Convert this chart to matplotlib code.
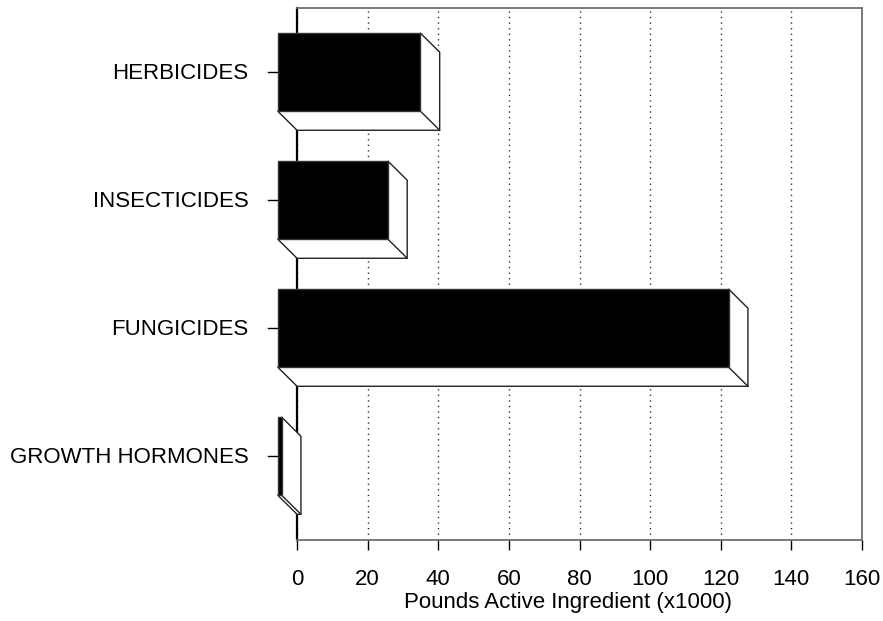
import matplotlib
matplotlib.use("Agg")
from matplotlib import pyplot as plt
from matplotlib.patches import Polygon

categories = ["HERBICIDES", "INSECTICIDES", "FUNGICIDES", "GROWTH HORMONES"]
pounds = [40.4, 31.2, 127.7, 1.1]
xticks = [0, 20, 40, 60, 80, 100, 120, 140, 160]

# depth of the pseudo-3d bars, in data units (x: pounds, y: category rows)
DX = 5.5
DY = 0.15
BAR_H = 0.61

plt.rcParams['font.family'] = ['Liberation Sans', 'DejaVu Sans']

fig = plt.figure(figsize=(8.83, 6.21), dpi=100)
ax = fig.add_axes([0.3364, 0.1304, 0.6398, 0.8567])
ax.set_xlim(0, 160)
ax.set_ylim(3.656, -0.5)


def bar3d(ax, y, value):
    # front face sits up-left of the back plane
    x0, x1 = -DX, value - DX
    top, bot = y - BAR_H / 2, y + BAR_H / 2
    side = Polygon([(x0, bot), (x0 + DX, bot + DY), (x1 + DX, bot + DY),
                    (x1 + DX, top + DY), (x1, top), (x1, bot)],
                   closed=True, facecolor='white', edgecolor='#222222',
                   linewidth=1.0, zorder=3, clip_on=False)
    ax.add_patch(side)
    ax.plot([x1, x1 + DX], [bot, bot + DY], color='#222222', lw=1.0,
            zorder=3.1, clip_on=False)
    front = Polygon([(x0, top), (x1, top), (x1, bot), (x0, bot)],
                    closed=True, facecolor='black', edgecolor='#333333',
                    linewidth=1.0, zorder=3.2, clip_on=False)
    ax.add_patch(front)


for i, v in enumerate(pounds):
    bar3d(ax, i, v)
    ax.plot([-DX - 2.8, -DX], [i, i], color='black', lw=1.0, clip_on=False)
    ax.text(-13.8, i + 0.01, categories[i], ha='right', va='center',
            fontsize=16)

ax.set_yticks([])
ax.set_xticks(xticks)
ax.tick_params(axis='x', direction='out', length=7, width=1.0,
               labelsize=16, pad=14, colors='black')
ax.grid(axis='x', linestyle=(0, (1, 3)), color='#333333', linewidth=1.0)
ax.set_axisbelow(True)

for name in ['top', 'right', 'bottom']:
    ax.spines[name].set_color('#707070')
    ax.spines[name].set_linewidth(1.3)
ax.spines['left'].set_color('black')
ax.spines['left'].set_linewidth(1.6)

ax.set_xlabel("Pounds Active Ingredient (x1000)", fontsize=16)
ax.xaxis.set_label_coords(0.4805, -0.098)
ax.xaxis.label.set_va('top')

fig.savefig("out.png", dpi=100)
